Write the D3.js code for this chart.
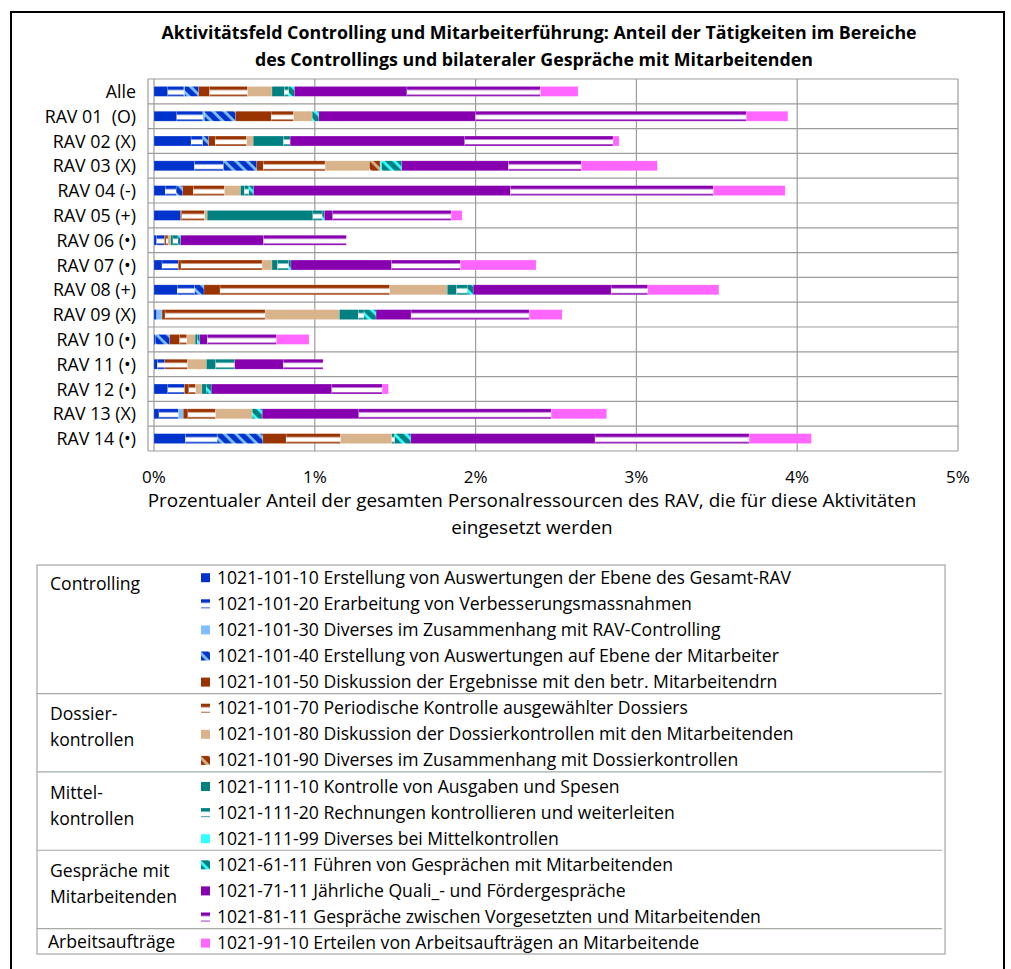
<!DOCTYPE html>
<html>
<head>
<meta charset="utf-8">
<script src="https://cdn.jsdelivr.net/npm/d3@7"></script>
<style>
  body { margin: 0; background: #fff; }
  svg { display: block; }
  text { font-family: "Open Sans", "Noto Sans", sans-serif; fill: #000; }
</style>
</head>
<body>
<svg id="chart" width="1011" height="969"></svg>
<script>
// ---- data -------------------------------------------------------------
const categories = ["Alle", "RAV 01  (O)", "RAV 02 (X)", "RAV 03 (X)", "RAV 04 (-)", "RAV 05 (+)",
  "RAV 06 (\u2022)", "RAV 07 (\u2022)", "RAV 08 (+)", "RAV 09 (X)", "RAV 10 (\u2022)", "RAV 11 (\u2022)",
  "RAV 12 (\u2022)", "RAV 13 (X)", "RAV 14 (\u2022)"];

const xTicks = [0, 1, 2, 3, 4, 5];   // percent

const seriesLabels = [
  "1021-101-10 Erstellung von Auswertungen der Ebene des Gesamt-RAV",
  "1021-101-20 Erarbeitung von Verbesserungsmassnahmen",
  "1021-101-30 Diverses im Zusammenhang mit RAV-Controlling",
  "1021-101-40 Erstellung von Auswertungen auf Ebene der Mitarbeiter",
  "1021-101-50 Diskussion der Ergebnisse mit den betr. Mitarbeitendrn",
  "1021-101-70 Periodische Kontrolle ausgew\u00e4hlter Dossiers",
  "1021-101-80 Diskussion der Dossierkontrollen mit den Mitarbeitenden",
  "1021-101-90 Diverses im Zusammenhang mit Dossierkontrollen",
  "1021-111-10 Kontrolle von Ausgaben und Spesen",
  "1021-111-20 Rechnungen kontrollieren und weiterleiten",
  "1021-111-99 Diverses bei Mittelkontrollen",
  "1021-61-11 F\u00fchren von Gespr\u00e4chen mit Mitarbeitenden",
  "1021-71-11 J\u00e4hrliche Quali_- und F\u00f6rdergespr\u00e4che",
  "1021-81-11 Gespr\u00e4che zwischen Vorgesetzten und Mitarbeitenden",
  "1021-91-10 Erteilen von Arbeitsauftr\u00e4gen an Mitarbeitende"
];

// activity groups: label lines and number of series belonging to each
const groupNames = [["Controlling"], ["Dossier-", "kontrollen"], ["Mittel-", "kontrollen"],
  ["Gespr\u00e4che mit", "Mitarbeitenden"], ["Arbeitsauftr\u00e4ge"]];
const groupSizes = [5, 3, 3, 3, 1];

// share of total staff resources (%), one value per category
const a101_10 = [0.086, 0.142, 0.231, 0.252, 0.070, 0.165, 0.017, 0.050, 0.145, 0.017, 0.008, 0.021, 0.086, 0.031, 0.196];
const a101_20 = [0.100, 0.162, 0.072, 0.180, 0.068, 0.000, 0.048, 0.101, 0.108, 0.000, 0.000, 0.046, 0.104, 0.120, 0.197];
const a101_30 = [0.005, 0.010, 0.000, 0.000, 0.000, 0.000, 0.000, 0.000, 0.000, 0.033, 0.000, 0.000, 0.000, 0.031, 0.000];
const a101_40 = [0.087, 0.193, 0.037, 0.207, 0.041, 0.000, 0.000, 0.000, 0.058, 0.000, 0.090, 0.000, 0.000, 0.000, 0.284];
const a101_50 = [0.068, 0.222, 0.041, 0.041, 0.066, 0.008, 0.010, 0.017, 0.100, 0.019, 0.062, 0.000, 0.027, 0.029, 0.145];
const a101_70 = [0.236, 0.139, 0.195, 0.384, 0.193, 0.141, 0.012, 0.504, 1.055, 0.622, 0.044, 0.141, 0.042, 0.172, 0.338];
const a101_80 = [0.152, 0.116, 0.041, 0.276, 0.100, 0.017, 0.017, 0.062, 0.358, 0.462, 0.052, 0.118, 0.039, 0.228, 0.319];
const a101_90 = [0.000, 0.000, 0.000, 0.066, 0.000, 0.000, 0.000, 0.000, 0.000, 0.000, 0.000, 0.000, 0.000, 0.000, 0.000];
const a111_10 = [0.077, 0.000, 0.189, 0.000, 0.025, 0.657, 0.014, 0.035, 0.058, 0.118, 0.014, 0.058, 0.027, 0.000, 0.000];
const a111_20 = [0.027, 0.000, 0.041, 0.000, 0.027, 0.058, 0.031, 0.068, 0.066, 0.035, 0.000, 0.118, 0.000, 0.000, 0.018];
const a111_99 = [0.000, 0.000, 0.000, 0.010, 0.000, 0.000, 0.000, 0.000, 0.000, 0.000, 0.000, 0.000, 0.000, 0.000, 0.000];
const a61_11  = [0.035, 0.041, 0.000, 0.125, 0.029, 0.014, 0.017, 0.015, 0.037, 0.075, 0.015, 0.000, 0.031, 0.062, 0.100];
const a71_11  = [0.700, 0.975, 1.086, 0.664, 1.598, 0.052, 0.516, 0.626, 0.858, 0.218, 0.047, 0.302, 0.750, 0.601, 1.146];
const a81_11  = [0.830, 1.683, 0.922, 0.452, 1.262, 0.736, 0.514, 0.427, 0.228, 0.734, 0.429, 0.247, 0.313, 1.196, 0.958];
const a91_10  = [0.234, 0.259, 0.037, 0.473, 0.446, 0.068, 0.000, 0.471, 0.442, 0.205, 0.203, 0.000, 0.039, 0.345, 0.387];

const seriesValues = [a101_10, a101_20, a101_30, a101_40, a101_50, a101_70, a101_80, a101_90,
  a111_10, a111_20, a111_99, a61_11, a71_11, a81_11, a91_10];

// ---- fills --------------------------------------------------------------
const C = {
  blue: "#0033CC", lightBlue: "#80BFFF", brown: "#993300", tan: "#D9B38C",
  teal: "#008080", cyan: "#33FFFF", purple: "#8700AF", pink: "#FF66FF"
};
// [kind, main colour, secondary colour]
const fills = [
  ["solid", C.blue], ["dash", C.blue], ["solid", C.lightBlue], ["diag", C.blue, C.lightBlue],
  ["solid", C.brown], ["dash", C.brown], ["solid", C.tan], ["diag", C.brown, C.tan],
  ["solid", C.teal], ["dash", C.teal], ["solid", C.cyan], ["diag", C.teal, C.cyan],
  ["solid", C.purple], ["dash", C.purple], ["solid", C.pink]
];

const svg = d3.select("#chart");
const defs = svg.append("defs");

fills.forEach((f, i) => {
  if (f[0] === "dash") {
    const p = defs.append("pattern").attr("id", "pat" + i)
      .attr("patternUnits", "userSpaceOnUse").attr("width", 8).attr("height", 10);
    p.append("rect").attr("width", 8).attr("height", 10).attr("fill", f[1]);
    p.append("rect").attr("y", 3.5).attr("width", 8).attr("height", 4.8).attr("fill", "#fff");
  } else if (f[0] === "diag") {
    const p = defs.append("pattern").attr("id", "pat" + i)
      .attr("patternUnits", "userSpaceOnUse").attr("width", 8).attr("height", 8)
      .attr("patternTransform", "rotate(45)");
    p.append("rect").attr("width", 8).attr("height", 8).attr("fill", f[1]);
    p.append("rect").attr("width", 8).attr("height", 2.8).attr("fill", f[2]);
  }
});
const fillOf = i => fills[i][0] === "solid" ? fills[i][1] : `url(#pat${i})`;

// ---- frame --------------------------------------------------------------
svg.append("rect").attr("x", 11).attr("y", 12).attr("width", 993).attr("height", 975)
  .attr("fill", "none").attr("stroke", "#000").attr("stroke-width", 2);

// ---- title --------------------------------------------------------------
const title = svg.append("text").attr("text-anchor", "middle")
  .attr("font-weight", "bold").attr("font-size", 17.8);
title.append("tspan").attr("x", 539).attr("y", 39)
  .text("Aktivit\u00e4tsfeld Controlling und Mitarbeiterf\u00fchrung: Anteil der T\u00e4tigkeiten im Bereiche");
title.append("tspan").attr("x", 534).attr("y", 66)
  .text("des Controllings und bilateraler Gespr\u00e4che mit Mitarbeitenden");

// ---- scales -------------------------------------------------------------
const plotLeft = 148, plotTop = 79, plotRight = 958, plotBottom = 451;
const x = d3.scaleLinear().domain([0, 5]).range([154, plotRight]);
const y = d3.scaleBand().domain(categories).range([plotTop, plotBottom])
  .paddingInner(0.6).paddingOuter(0.3);

const grid = svg.append("g").attr("stroke", "#9c9c9c").attr("stroke-width", 1.2);
// category separators
d3.range(categories.length + 1).forEach(k => {
  const yy = plotTop + k * y.step();
  grid.append("line").attr("x1", plotLeft).attr("x2", plotRight).attr("y1", yy).attr("y2", yy);
});
// value gridlines
grid.selectAll("line.v").data(xTicks).join("line").attr("class", "v")
  .attr("x1", d => x(d)).attr("x2", d => x(d)).attr("y1", plotTop).attr("y2", plotBottom);
grid.append("line").attr("x1", plotLeft).attr("x2", plotLeft).attr("y1", plotTop).attr("y2", plotBottom);

// ---- bars ---------------------------------------------------------------
const table = categories.map((c, ci) => {
  const row = { cat: c };
  seriesValues.forEach((arr, si) => row["s" + si] = arr[ci]);
  return row;
});
const keys = seriesValues.map((_, si) => "s" + si);
const stacked = d3.stack().keys(keys)(table);

const rows = svg.append("g").selectAll("g").data(categories).join("g")
  .attr("transform", c => `translate(0,${y(c)})`);
rows.each(function (c, ci) {
  const g = d3.select(this);
  stacked.forEach((layer, si) => {
    const seg = layer[ci];
    const w = x(seg[1]) - x(seg[0]);
    if (w <= 0) return;
    g.append("rect").attr("x", x(seg[0])).attr("y", 0)
      .attr("width", w).attr("height", y.bandwidth())
      .attr("fill", fillOf(si))
      .attr("stroke", "#fff").attr("stroke-opacity", 0.3).attr("stroke-width", 0.6);
  });
});

// ---- axes labels --------------------------------------------------------
svg.append("g").selectAll("text").data(categories).join("text")
  .attr("x", 136).attr("y", c => y(c) + y.bandwidth() / 2 + 6.5)
  .attr("text-anchor", "end").attr("font-size", 17.8)
  .style("white-space", "pre")
  .text(c => c);

svg.append("g").selectAll("text").data(xTicks).join("text")
  .attr("x", d => x(d)).attr("y", 483).attr("text-anchor", "middle").attr("font-size", 17)
  .text(d => d + "%");

const xt = svg.append("text").attr("text-anchor", "middle").attr("font-size", 18.9);
xt.append("tspan").attr("x", 532).attr("y", 507)
  .text("Prozentualer Anteil der gesamten Personalressourcen des RAV, die f\u00fcr diese Aktivit\u00e4ten");
xt.append("tspan").attr("x", 532).attr("y", 534).text("eingesetzt werden");

// ---- legend -------------------------------------------------------------
const lgTop = 565, lgLeft = 37, lgRight = 945, lgBottom = 954;
const itemY0 = 577.7, itemStep = 26.1;
const lg = svg.append("g");
lg.append("rect").attr("x", lgLeft).attr("y", lgTop).attr("width", lgRight - lgLeft)
  .attr("height", lgBottom - lgTop).attr("fill", "none").attr("stroke", "#a6a6a6").attr("stroke-width", 1.2);

let idx = 0;
groupNames.forEach((lines, gi) => {
  const first = idx;
  lines.forEach((t, li) => {
    lg.append("text").attr("x", gi === 4 ? 48 : 50)
      .attr("y", itemY0 + first * itemStep + (gi === 4 ? 5 : 12) + li * 26)
      .attr("font-size", 17.6).text(t);
  });
  idx += groupSizes[gi];
  if (gi < groupNames.length - 1) {
    const sy = itemY0 + (idx - 0.5) * itemStep - 1.5;
    lg.append("line").attr("x1", lgLeft).attr("x2", lgRight - 3).attr("y1", sy).attr("y2", sy)
      .attr("stroke", "#a3aba3").attr("stroke-width", 1.2);
  }
});

seriesLabels.forEach((label, i) => {
  const cy = itemY0 + i * itemStep;
  const ic = lg.append("g").attr("transform", `translate(201,${cy - 4.5})`);
  ic.append("rect").attr("width", 9).attr("height", 9).attr("fill", fillOf(i));
  lg.append("text").attr("x", 217).attr("y", cy + 6).attr("font-size", 17.6).text(label);
});
</script>
</body>
</html>
